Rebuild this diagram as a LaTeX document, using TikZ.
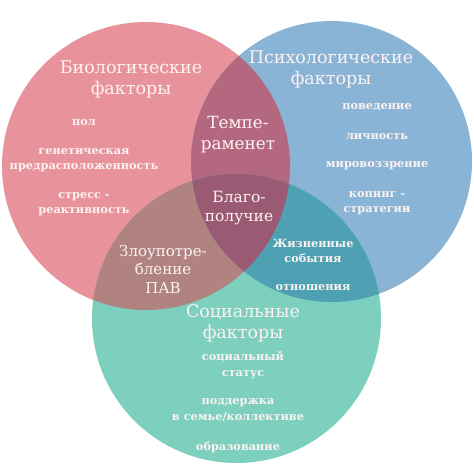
\documentclass[tikz,border=0pt]{standalone}
\usepackage{fontspec}
\setmainfont{DejaVu Serif}
\definecolor{cred}{HTML}{E8939C}
\definecolor{cblue}{HTML}{8AB4D5}
\definecolor{cteal}{HTML}{7DCFBE}
\definecolor{crb}{HTML}{B4687F}
\definecolor{crt}{HTML}{B08280}
\definecolor{cbt}{HTML}{4EA1B2}
\definecolor{crbt}{HTML}{9B5A73}
\definecolor{ctext}{HTML}{FDF2F2}
\tikzset{
  title/.style={text=ctext, align=center, font=\fontsize{17.5}{21}\selectfont, inner sep=0pt},
  lens/.style={text=ctext, align=center, font=\fontsize{15.5}{19}\selectfont, inner sep=0pt},
  item/.style={text=ctext, align=center, font=\bfseries\fontsize{11.3}{15.5}\selectfont, inner sep=0pt},
}
\begin{document}
\begin{tikzpicture}[x=1pt,y=-1pt]
\useasboundingbox (0,0) rectangle (474,474);
\def\redc{(146,166) circle [radius=144pt]}
\def\bluec{(331.5,161.5) circle [radius=140.5pt]}
\def\tealc{(236.5,318.5) circle [radius=144.5pt]}
\fill[cred] \redc;
\fill[cblue] \bluec;
\fill[cteal] \tealc;
\begin{scope}\clip \redc; \fill[crb] \bluec; \end{scope}
\begin{scope}\clip \redc; \fill[crt] \tealc; \end{scope}
\begin{scope}\clip \bluec; \fill[cbt] \tealc; \end{scope}
\begin{scope}\clip \redc; \clip \bluec; \fill[crbt] \tealc; \end{scope}

\node[title] (bio) at (131,79) {Биологические\\факторы};
\node[item] (pol) at (84,123) {пол};
\node[item] (gen) at (84,160) {генетическая\\предрасположенность};
\node[item] (stress) at (84,204) {стресс -\\реактивность};

\node[title] (psy) at (331,69) {Психологические\\факторы};
\node[item] (beh) at (377,107) {поведение};
\node[item] (pers) at (377,137) {личность};
\node[item] (world) at (377,166) {мировоззрение};
\node[item] (coping) at (377,203) {копинг -\\стратегии};

\node[lens, font=\fontsize{16.8}{21}\selectfont] (temp) at (238,135) {Темпе-\\раменет};
\node[lens] (well) at (239,208) {Благо-\\получие};
\node[lens, font=\fontsize{15}{18.5}\selectfont] (abuse) at (163,269) {Злоупотре-\\бление\\ПАВ};
\node[item] (life) at (313,251) {Жизненные\\события};
\node[item] (rel) at (313,288) {отношения};

\node[title] (soc) at (243,323) {Социальные\\факторы};
\node[item] (status) at (243,365) {социальный\\статус};
\node[item] (support) at (238,410) {поддержка\\в семье/коллективе};
\node[item] (edu) at (238,447) {образование};
\end{tikzpicture}
\end{document}
